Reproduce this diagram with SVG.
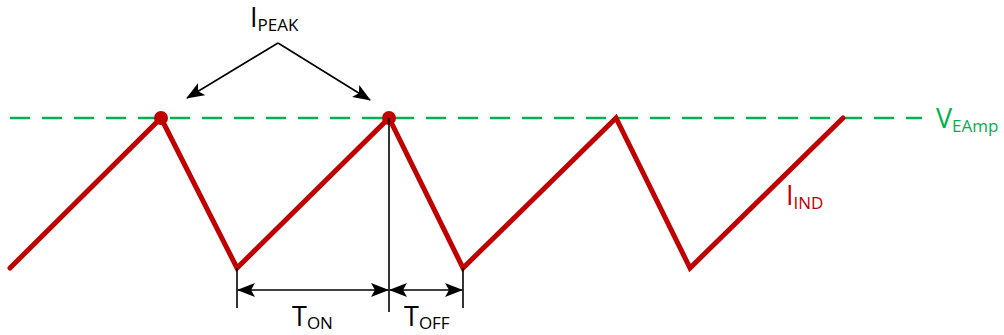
<svg xmlns="http://www.w3.org/2000/svg" width="1004" height="335" viewBox="0 0 1004 335">
<style>
text{font-family:"Open Sans","Liberation Sans",sans-serif}
.blk{stroke:#000;stroke-width:1.6;fill:none}
</style>
<defs>
<marker id="ah2" markerWidth="18" markerHeight="14" refX="17" refY="7" orient="auto-start-reverse" markerUnits="userSpaceOnUse">
<path d="M0,0 L18,7 L0,14 L4,7 Z" fill="#000"/>
</marker>
</defs>
<g id="vEamp">
<line x1="10" y1="118" x2="922" y2="118" stroke="#00B050" stroke-width="2.5" stroke-dasharray="20 12"/>
<text x="936" y="128" font-size="27" fill="#00B050">V<tspan font-size="17" dy="4">EAmp</tspan></text>
</g>
<g id="iInd">
<polyline points="10,268 161,118 237,268 389,118 463,268 616,118 690,268 843,118" fill="none" stroke="#C00000" stroke-width="5" stroke-linecap="round" stroke-linejoin="miter"/>
<text x="786" y="205" font-size="27" fill="#C00000">I<tspan font-size="17" dy="4">IND</tspan></text>
</g>
<g id="peaks">
<circle cx="161" cy="118" r="7" fill="#C00000"/>
<circle cx="389" cy="118" r="7" fill="#C00000"/>
</g>
<g id="iPeak">
<text x="250" y="27" font-size="27" fill="#000">I<tspan font-size="17" dy="4">PEAK</tspan></text>
</g>
<g id="connectors">
<line class="blk" x1="278" y1="43" x2="187" y2="98" marker-end="url(#ah2)"/>
<line class="blk" x1="278" y1="43" x2="370" y2="100" marker-end="url(#ah2)"/>
<line class="blk" x1="237" y1="268" x2="237" y2="308"/>
<line class="blk" x1="389" y1="118" x2="389" y2="312"/>
<line class="blk" x1="463" y1="268" x2="463" y2="308"/>
<line class="blk" x1="238" y1="290" x2="388" y2="290" marker-start="url(#ah2)" marker-end="url(#ah2)"/>
<line class="blk" x1="390" y1="290" x2="462" y2="290" marker-start="url(#ah2)" marker-end="url(#ah2)"/>
</g>
<g id="labels">
<text x="292" y="326" font-size="27" fill="#000">T<tspan font-size="17" dy="3">ON</tspan></text>
<text x="404" y="326" font-size="27" fill="#000">T<tspan font-size="17" dy="3">OFF</tspan></text>
</g>
</svg>
